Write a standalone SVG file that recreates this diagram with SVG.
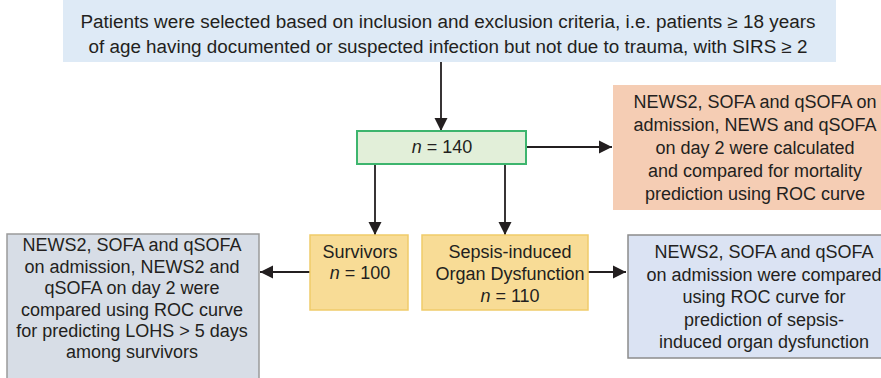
<svg xmlns="http://www.w3.org/2000/svg" width="881" height="378" viewBox="0 0 881 378">
<defs>
<marker id="ah" markerUnits="userSpaceOnUse" markerWidth="14" markerHeight="14" refX="13" refY="7" orient="auto">
<path d="M0,0.5 L13,7 L0,13.5 Z" fill="#231f20"/>
</marker>
<style>
text{font-family:"Liberation Sans",Arial,sans-serif;font-size:18px;fill:#231f20;text-anchor:middle}
.c{stroke:#231f20;stroke-width:1.8;fill:none;marker-end:url(#ah)}
</style>
</defs>
<rect width="881" height="378" fill="#ffffff"/>
<g id="connectors">
<line class="c" x1="441" y1="62" x2="441" y2="131"/>
<line class="c" x1="526" y1="147" x2="612" y2="147"/>
<line class="c" x1="375" y1="164" x2="375" y2="235"/>
<line class="c" x1="505" y1="164" x2="505" y2="235"/>
<line class="c" x1="310" y1="272" x2="260" y2="272"/>
<line class="c" x1="588" y1="272" x2="626" y2="272"/>
</g>
<g id="top">
<rect x="63" y="0" width="773" height="62" fill="#deeaf6"/>
<text x="448" y="28" font-size="17.5" textLength="735" lengthAdjust="spacingAndGlyphs">Patients were selected based on inclusion and exclusion criteria, i.e. patients ≥ 18 years</text>
<text x="448" y="53" font-size="17.5" textLength="719" lengthAdjust="spacingAndGlyphs">of age having documented or suspected infection but not due to trauma, with SIRS ≥ 2</text>
</g>
<g id="n140">
<rect x="357" y="131" width="169" height="33" fill="#e2efd9" stroke="#3db56e" stroke-width="2"/>
<text x="442" y="153"><tspan font-style="italic">n</tspan> = 140</text>
</g>
<g id="mortality">
<rect x="613" y="85" width="290" height="125" fill="#f5cdb4"/>
<text x="755" y="108">NEWS2, SOFA and qSOFA on</text>
<text x="755" y="131">admission, NEWS and qSOFA</text>
<text x="755" y="154">on day 2 were calculated</text>
<text x="755" y="177">and compared for mortality</text>
<text x="755" y="200">prediction using ROC curve</text>
</g>
<g id="survivors">
<rect x="310" y="235" width="98" height="75" fill="#f8dc96" stroke="#f0cb6a" stroke-width="1.5"/>
<text x="360" y="258">Survivors</text>
<text x="360" y="279"><tspan font-style="italic">n</tspan> = 100</text>
</g>
<g id="sepsis">
<rect x="422" y="235" width="166" height="75" fill="#f8dc96" stroke="#f0cb6a" stroke-width="1.5"/>
<text x="510" y="258">Sepsis-induced</text>
<text x="510" y="280">Organ Dysfunction</text>
<text x="510" y="302"><tspan font-style="italic">n</tspan> = 110</text>
</g>
<g id="lohs" font-size="18.6">
<rect x="7" y="234" width="252" height="160" fill="#d7dde6" stroke="#9a9a9a" stroke-width="1.5"/>
<text x="132" y="251" font-size="18.6">NEWS2, SOFA and qSOFA</text>
<text x="132" y="273" font-size="18.6">on admission, NEWS2 and</text>
<text x="132" y="294" font-size="18.6">qSOFA on day 2 were</text>
<text x="132" y="316" font-size="18.6">compared using ROC curve</text>
<text x="132" y="337" font-size="18.6">for predicting LOHS &gt; 5 days</text>
<text x="132" y="358" font-size="18.6">among survivors</text>
</g>
<g id="organ">
<rect x="628" y="235" width="280" height="123" fill="#dbe3f3" stroke="#8c8c8c" stroke-width="1.5"/>
<text x="764" y="258">NEWS2, SOFA and qSOFA</text>
<text x="764" y="281">on admission were compared</text>
<text x="764" y="303">using ROC curve for</text>
<text x="764" y="326">prediction of sepsis-</text>
<text x="764" y="348">induced organ dysfunction</text>
</g>
</svg>
